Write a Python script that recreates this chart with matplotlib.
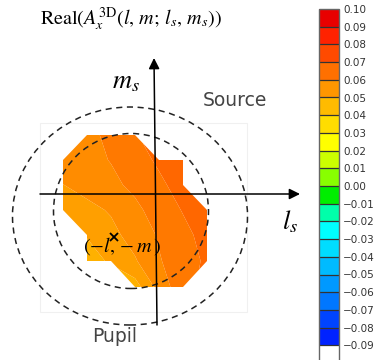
import numpy as np
import matplotlib
matplotlib.use("Agg")
import matplotlib.pyplot as plt
from matplotlib.colors import ListedColormap, BoundaryNorm, LinearSegmentedColormap, Normalize
from matplotlib.patches import Ellipse, Rectangle
import matplotlib.cm as cm

plt.rcParams['mathtext.fontset'] = 'stix'

# grid of the sampled source points (l_s, m_s)
ls_grid = [-0.92, -0.68, -0.44, -0.20, 0.04, 0.28, 0.52]
ms_grid = [0.59, 0.34, 0.09, -0.16, -0.41, -0.67, -0.93]

# Real part values (nan = outside the source)
nan = np.nan
amp = [
    [nan,    0.0583, 0.0615, 0.0646, nan,    nan,    nan],
    [0.0571, 0.0586, 0.0602, 0.0630, 0.0658, 0.0686, nan],
    [0.0549, 0.0568, 0.0589, 0.0611, 0.0640, 0.0670, nan],
    [0.0512, 0.0536, 0.0555, 0.0589, 0.0621, 0.0653, 0.0683],
    [nan,    0.0504, 0.0536, 0.0570, 0.0605, 0.0636, 0.0668],
    [nan,    0.0473, 0.0509, 0.0545, 0.0596, 0.0628, 0.0658],
    [nan,    nan,    nan,    0.0477, 0.0569, 0.0634, nan],
]

# colour bar bands, bottom (-0.09) to top (0.10)
band_colors = ['#0022ff', '#0044ff', '#0077ff', '#0099ff', '#00bbff', '#00ddff',
               '#00ffff', '#00ffaa', '#00ee00', '#88ff00', '#ccff00', '#ffff00',
               '#ffdd00', '#ffbb00', '#ff9600', '#ff7000', '#ff4a00', '#ff2200',
               '#e80000']
cbar_ticks = [0.10, 0.09, 0.08, 0.07, 0.06, 0.05, 0.04, 0.03, 0.02, 0.01, 0.00,
              -0.01, -0.02, -0.03, -0.04, -0.05, -0.06, -0.07, -0.08, -0.09]
fill_levels = [0.045, 0.050, 0.055, 0.060, 0.065, 0.070, 0.075]

fig = plt.figure(figsize=(3.75, 3.6), dpi=100)
ax = fig.add_axes([0, 0, 1, 1])
ax.set_xlim(-1.55, 2.20)
ax.set_ylim(-1.66, 1.94)
ax.axis('off')

# faint frame behind the map
ax.add_patch(Rectangle((-1.15, -1.18), 2.07, 1.89, fill=False, ec='#f0f0f0', lw=0.8, zorder=0))

fine_cmap = LinearSegmentedColormap.from_list('fine', band_colors)
Z = np.ma.masked_invalid(np.array(amp))
ax.contourf(ls_grid, ms_grid, Z, levels=fill_levels, cmap=fine_cmap,
            norm=Normalize(-0.085, 0.095), zorder=1, antialiased=True)

# source and pupil circles
ax.add_patch(Ellipse((-0.24, -0.17), 1.55, 1.55, fill=False, ls=(0, (4, 3)), lw=1.1,
                     ec='#222222', zorder=3))
ax.add_patch(Ellipse((-0.25, -0.22), 2.35, 2.18, fill=False, ls=(0, (4, 3)), lw=1.1,
                     ec='#222222', zorder=3))

# axes arrows
arrow = dict(arrowstyle='-|>', color='black', lw=1.1, mutation_scale=16, shrinkA=0, shrinkB=0)
ax.annotate('', xy=(1.45, 0), xytext=(-1.15, 0), arrowprops=arrow, zorder=4)
ax.annotate('', xy=(-0.01, 1.36), xytext=(0.02, -1.31), arrowprops=arrow, zorder=4)

ax.text(1.35, -0.28, r'$l_s$', fontsize=19, ha='center', va='center')
ax.text(-0.29, 1.13, r'$m_s$', fontsize=19, ha='center', va='center')
ax.text(0.80, 0.93, 'Source', fontsize=13.5, color='#444444', ha='center', va='center')
ax.text(-0.40, -1.43, 'Pupil', fontsize=13.5, color='#444444', ha='center', va='center')

ax.plot([-0.41], [-0.43], marker='x', color='black', ms=6, mew=1.3, ls='none', zorder=5)
ax.text(-0.33, -0.52, r'$(-l,-m\,)$', fontsize=14.5, ha='center', va='center', zorder=5)

fig.text(40 / 375, 1 - 19 / 360, r'$\mathrm{Real}(A_x^{\mathrm{3D}}(l,\,m;\,l_s,\,m_s))$',
         fontsize=14.5, ha='left', va='center')

# colour bar: 19 coloured bands plus a white band below -0.09
cb_colors = ['white'] + band_colors
bounds = [-0.10, -0.09, -0.08, -0.07, -0.06, -0.05, -0.04, -0.03, -0.02, -0.01, 0.00,
          0.01, 0.02, 0.03, 0.04, 0.05, 0.06, 0.07, 0.08, 0.09, 0.10]
cmap = ListedColormap(cb_colors)
norm = BoundaryNorm(bounds, cmap.N)
cax = fig.add_axes([319 / 375, -3 / 360, 20 / 375, 354 / 360])
sm = cm.ScalarMappable(norm=norm, cmap=cmap)
cb = fig.colorbar(sm, cax=cax, ticks=cbar_ticks, drawedges=True)
cb.dividers.set_color('#333333')
cb.dividers.set_linewidth(0.9)
cb.outline.set_edgecolor('#666666')
cb.outline.set_linewidth(1.0)
cb.ax.set_yticklabels(['%.2f' % t if t >= 0 else '\u2212%.2f' % abs(t) for t in cbar_ticks])
cb.ax.tick_params(length=0, labelsize=7.5, labelcolor='#333333', pad=3)

fig.savefig('out.png', dpi=100)
